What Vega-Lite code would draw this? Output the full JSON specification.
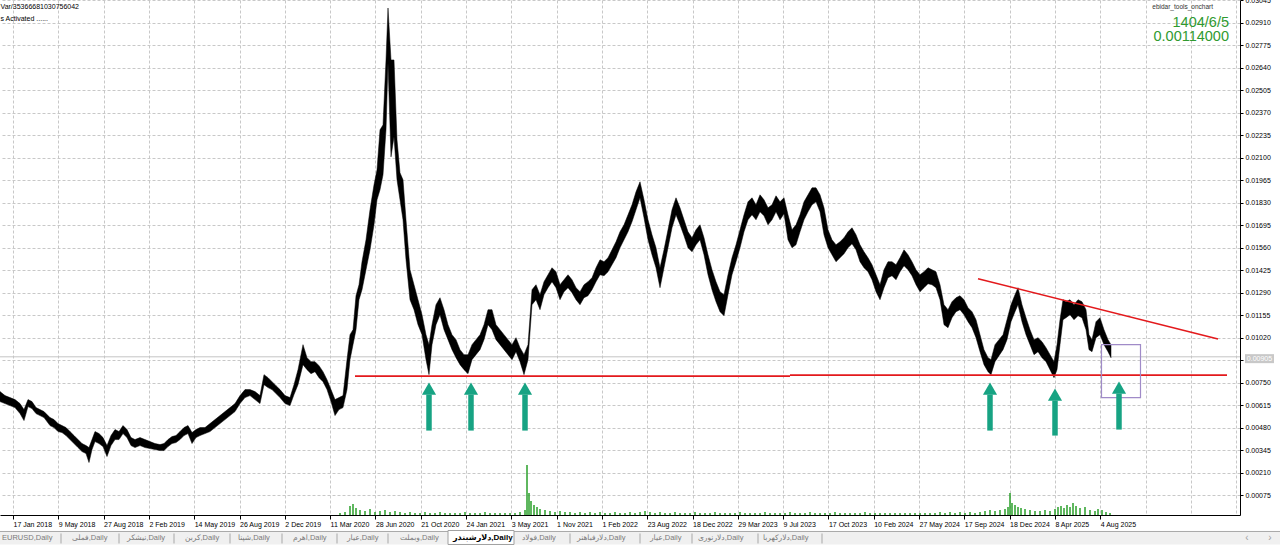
{
"$schema": "https://vega.github.io/schema/vega-lite/v6.json",
"width": 1240, "height": 515,
"autosize": {"type": "none"},
"padding": {"left": 0, "top": 0, "right": 40, "bottom": 30},
"background": "white",
"config": {"view": {"stroke": null}, "font": "Liberation Sans, DejaVu Sans"},
"datasets": {
"price": [
{"t":0,"h":0.00696,"l":0.00636},{"t":5,"h":0.00672,"l":0.00624},{"t":10,"h":0.0066,"l":0.00612},{"t":15,"h":0.00648,"l":0.006},{"t":20,"h":0.00624,"l":0.00564},{"t":24,"h":0.00588,"l":0.00522},{"t":28,"h":0.00648,"l":0.00606},{"t":32,"h":0.00636,"l":0.00594},{"t":36,"h":0.006,"l":0.00564},{"t":40,"h":0.00588,"l":0.00552},{"t":44,"h":0.00576,"l":0.0054},{"t":50,"h":0.0054,"l":0.00492},{"t":54,"h":0.00528,"l":0.0048},{"t":58,"h":0.00504,"l":0.00456},{"t":62,"h":0.00492,"l":0.0045},{"t":66,"h":0.0048,"l":0.00432},{"t":70,"h":0.00456,"l":0.00408},{"t":74,"h":0.00432,"l":0.00384},{"t":78,"h":0.00408,"l":0.0036},{"t":82,"h":0.00384,"l":0.00336},{"t":86,"h":0.00372,"l":0.00324},{"t":89,"h":0.0036,"l":0.0027},{"t":92,"h":0.00408,"l":0.00348},{"t":95,"h":0.00456,"l":0.00396},{"t":99,"h":0.00444,"l":0.00384},{"t":103,"h":0.0042,"l":0.00366},{"t":107,"h":0.00372,"l":0.00306},{"t":111,"h":0.00432,"l":0.00372},{"t":115,"h":0.00468,"l":0.00408},{"t":119,"h":0.00456,"l":0.00408},{"t":123,"h":0.00492,"l":0.00444},{"t":127,"h":0.00468,"l":0.0042},{"t":131,"h":0.0042,"l":0.00372},{"t":135,"h":0.00408,"l":0.0036},{"t":140,"h":0.0042,"l":0.00372},{"t":145,"h":0.00408,"l":0.0036},{"t":150,"h":0.00396,"l":0.00354},{"t":155,"h":0.00384,"l":0.00348},{"t":160,"h":0.00378,"l":0.00342},{"t":164,"h":0.00384,"l":0.00342},{"t":168,"h":0.00408,"l":0.00366},{"t":172,"h":0.00426,"l":0.00384},{"t":176,"h":0.00432,"l":0.0039},{"t":180,"h":0.00456,"l":0.00408},{"t":184,"h":0.0048,"l":0.00432},{"t":188,"h":0.00492,"l":0.00444},{"t":192,"h":0.0045,"l":0.00384},{"t":196,"h":0.00468,"l":0.0042},{"t":200,"h":0.0048,"l":0.00432},{"t":205,"h":0.0048,"l":0.00444},{"t":210,"h":0.00504,"l":0.00456},{"t":215,"h":0.00528,"l":0.0048},{"t":220,"h":0.00552,"l":0.00504},{"t":225,"h":0.00576,"l":0.00528},{"t":230,"h":0.006,"l":0.00552},{"t":235,"h":0.00624,"l":0.00576},{"t":240,"h":0.00672,"l":0.00624},{"t":245,"h":0.00708,"l":0.0066},{"t":250,"h":0.00708,"l":0.00672},{"t":255,"h":0.00696,"l":0.00648},{"t":260,"h":0.00672,"l":0.00624},{"t":264,"h":0.00798,"l":0.00738},{"t":268,"h":0.0078,"l":0.0072},{"t":272,"h":0.00756,"l":0.00708},{"t":276,"h":0.00732,"l":0.00684},{"t":280,"h":0.00708,"l":0.0066},{"t":285,"h":0.00672,"l":0.00624},{"t":290,"h":0.0066,"l":0.00612},{"t":294,"h":0.00738,"l":0.00678},{"t":298,"h":0.00828,"l":0.00738},{"t":303,"h":0.00978,"l":0.00858},{"t":307,"h":0.009,"l":0.00828},{"t":311,"h":0.00876,"l":0.00804},{"t":315,"h":0.00876,"l":0.00816},{"t":319,"h":0.00852,"l":0.0078},{"t":323,"h":0.00816,"l":0.00756},{"t":327,"h":0.00768,"l":0.00708},{"t":331,"h":0.00708,"l":0.00636},{"t":335,"h":0.00648,"l":0.00552},{"t":339,"h":0.0066,"l":0.00588},{"t":343,"h":0.00672,"l":0.006},{"t":347,"h":0.00888,"l":0.00708},{"t":350,"h":0.01038,"l":0.00888},{"t":353,"h":0.01068,"l":0.00978},{"t":356,"h":0.01272,"l":0.01068},{"t":359,"h":0.01338,"l":0.01248},{"t":362,"h":0.01476,"l":0.01308},{"t":366,"h":0.01608,"l":0.01428},{"t":370,"h":0.01788,"l":0.01548},{"t":374,"h":0.01938,"l":0.01698},{"t":377,"h":0.02028,"l":0.01848},{"t":380,"h":0.02268,"l":0.01908},{"t":383,"h":0.02298,"l":0.01998},{"t":386,"h":0.02688,"l":0.02268},{"t":388,"h":0.03,"l":0.0267},{"t":391,"h":0.02688,"l":0.02106},{"t":394,"h":0.02688,"l":0.02226},{"t":397,"h":0.02208,"l":0.01968},{"t":400,"h":0.0201,"l":0.01848},{"t":403,"h":0.01968,"l":0.01728},{"t":406,"h":0.01728,"l":0.01488},{"t":410,"h":0.01428,"l":0.01248},{"t":414,"h":0.01338,"l":0.01188},{"t":418,"h":0.01248,"l":0.01098},{"t":422,"h":0.01158,"l":0.01038},{"t":426,"h":0.01038,"l":0.00888},{"t":429,"h":0.00978,"l":0.00798},{"t":432,"h":0.01098,"l":0.00978},{"t":436,"h":0.01218,"l":0.01098},{"t":440,"h":0.0126,"l":0.01158},{"t":444,"h":0.01188,"l":0.01068},{"t":448,"h":0.01098,"l":0.01008},{"t":452,"h":0.01038,"l":0.00948},{"t":456,"h":0.01008,"l":0.009},{"t":460,"h":0.00948,"l":0.00858},{"t":464,"h":0.00918,"l":0.00828},{"t":468,"h":0.00918,"l":0.00804},{"t":472,"h":0.00978,"l":0.00888},{"t":476,"h":0.01008,"l":0.00918},{"t":480,"h":0.01038,"l":0.00948},{"t":484,"h":0.01098,"l":0.01008},{"t":488,"h":0.01188,"l":0.01098},{"t":492,"h":0.01188,"l":0.01068},{"t":496,"h":0.01098,"l":0.01008},{"t":500,"h":0.01068,"l":0.00978},{"t":504,"h":0.01038,"l":0.00948},{"t":508,"h":0.01008,"l":0.00918},{"t":512,"h":0.00978,"l":0.00888},{"t":516,"h":0.0102,"l":0.00936},{"t":520,"h":0.0096,"l":0.00876},{"t":524,"h":0.00918,"l":0.00798},{"t":528,"h":0.00978,"l":0.00888},{"t":532,"h":0.01308,"l":0.01218},{"t":536,"h":0.01338,"l":0.01248},{"t":540,"h":0.01278,"l":0.01188},{"t":544,"h":0.01356,"l":0.01278},{"t":548,"h":0.01398,"l":0.0132},{"t":552,"h":0.0144,"l":0.01356},{"t":556,"h":0.01416,"l":0.0132},{"t":560,"h":0.01338,"l":0.01248},{"t":564,"h":0.01368,"l":0.01296},{"t":568,"h":0.01398,"l":0.0132},{"t":572,"h":0.01368,"l":0.0129},{"t":576,"h":0.0132,"l":0.01248},{"t":580,"h":0.01296,"l":0.01218},{"t":584,"h":0.01338,"l":0.0126},{"t":588,"h":0.01356,"l":0.01272},{"t":592,"h":0.0138,"l":0.01308},{"t":596,"h":0.0144,"l":0.01356},{"t":600,"h":0.01488,"l":0.01398},{"t":604,"h":0.01476,"l":0.01392},{"t":608,"h":0.015,"l":0.01416},{"t":612,"h":0.01548,"l":0.01458},{"t":616,"h":0.01596,"l":0.015},{"t":620,"h":0.01656,"l":0.0156},{"t":624,"h":0.01698,"l":0.01608},{"t":628,"h":0.01758,"l":0.01656},{"t":632,"h":0.01818,"l":0.01716},{"t":636,"h":0.01896,"l":0.01788},{"t":640,"h":0.01956,"l":0.0186},{"t":644,"h":0.01848,"l":0.0174},{"t":648,"h":0.01728,"l":0.01608},{"t":652,"h":0.01638,"l":0.01518},{"t":656,"h":0.0156,"l":0.0144},{"t":660,"h":0.0144,"l":0.0132},{"t":664,"h":0.01548,"l":0.0144},{"t":668,"h":0.01668,"l":0.0156},{"t":672,"h":0.01788,"l":0.0168},{"t":676,"h":0.0186,"l":0.01758},{"t":680,"h":0.018,"l":0.01698},{"t":684,"h":0.01728,"l":0.01632},{"t":688,"h":0.01656,"l":0.0156},{"t":692,"h":0.0162,"l":0.01536},{"t":696,"h":0.01668,"l":0.01578},{"t":700,"h":0.01698,"l":0.01608},{"t":704,"h":0.0162,"l":0.01518},{"t":708,"h":0.01518,"l":0.01398},{"t":712,"h":0.01428,"l":0.01308},{"t":716,"h":0.01356,"l":0.01236},{"t":720,"h":0.01296,"l":0.01176},{"t":724,"h":0.01278,"l":0.01152},{"t":728,"h":0.01398,"l":0.01278},{"t":732,"h":0.015,"l":0.01398},{"t":736,"h":0.01578,"l":0.01476},{"t":740,"h":0.01668,"l":0.0156},{"t":744,"h":0.01758,"l":0.01656},{"t":748,"h":0.01836,"l":0.01728},{"t":752,"h":0.0186,"l":0.01758},{"t":756,"h":0.01818,"l":0.01728},{"t":760,"h":0.01878,"l":0.01776},{"t":764,"h":0.01848,"l":0.01752},{"t":768,"h":0.018,"l":0.01698},{"t":772,"h":0.01818,"l":0.01728},{"t":776,"h":0.01872,"l":0.01776},{"t":780,"h":0.01836,"l":0.01728},{"t":784,"h":0.0186,"l":0.01764},{"t":788,"h":0.01758,"l":0.01608},{"t":792,"h":0.01668,"l":0.0156},{"t":796,"h":0.01698,"l":0.01578},{"t":800,"h":0.01758,"l":0.01656},{"t":804,"h":0.01836,"l":0.01728},{"t":808,"h":0.01878,"l":0.01776},{"t":812,"h":0.0192,"l":0.01818},{"t":816,"h":0.0192,"l":0.01836},{"t":820,"h":0.01878,"l":0.01776},{"t":824,"h":0.018,"l":0.01638},{"t":828,"h":0.01668,"l":0.0156},{"t":832,"h":0.01608,"l":0.01518},{"t":836,"h":0.01578,"l":0.01476},{"t":840,"h":0.01596,"l":0.015},{"t":844,"h":0.0162,"l":0.01524},{"t":848,"h":0.01656,"l":0.0156},{"t":852,"h":0.0168,"l":0.01584},{"t":856,"h":0.01638,"l":0.01548},{"t":860,"h":0.01578,"l":0.01476},{"t":864,"h":0.01536,"l":0.0144},{"t":868,"h":0.015,"l":0.01416},{"t":872,"h":0.01458,"l":0.01368},{"t":876,"h":0.01398,"l":0.01296},{"t":880,"h":0.01338,"l":0.01248},{"t":884,"h":0.01428,"l":0.0132},{"t":888,"h":0.01476,"l":0.0138},{"t":892,"h":0.01476,"l":0.01392},{"t":896,"h":0.01458,"l":0.01368},{"t":900,"h":0.015,"l":0.01416},{"t":904,"h":0.01548,"l":0.01452},{"t":908,"h":0.01518,"l":0.01428},{"t":912,"h":0.01476,"l":0.01392},{"t":916,"h":0.01428,"l":0.01338},{"t":920,"h":0.01398,"l":0.01296},{"t":924,"h":0.01416,"l":0.0132},{"t":928,"h":0.0144,"l":0.01344},{"t":932,"h":0.01428,"l":0.01338},{"t":936,"h":0.01416,"l":0.0132},{"t":940,"h":0.01338,"l":0.01248},{"t":944,"h":0.01218,"l":0.01098},{"t":948,"h":0.01188,"l":0.0108},{"t":952,"h":0.01236,"l":0.0114},{"t":956,"h":0.0126,"l":0.01176},{"t":960,"h":0.01272,"l":0.01188},{"t":964,"h":0.01248,"l":0.01158},{"t":968,"h":0.012,"l":0.01116},{"t":972,"h":0.01176,"l":0.0108},{"t":976,"h":0.01128,"l":0.0102},{"t":980,"h":0.01038,"l":0.00936},{"t":984,"h":0.00948,"l":0.00858},{"t":988,"h":0.009,"l":0.00816},{"t":991,"h":0.00888,"l":0.00798},{"t":995,"h":0.00978,"l":0.00876},{"t":999,"h":0.01008,"l":0.00912},{"t":1003,"h":0.01038,"l":0.00948},{"t":1007,"h":0.01128,"l":0.01008},{"t":1011,"h":0.01218,"l":0.01116},{"t":1015,"h":0.01278,"l":0.01176},{"t":1018,"h":0.0132,"l":0.01218},{"t":1022,"h":0.01218,"l":0.01116},{"t":1026,"h":0.0114,"l":0.01038},{"t":1030,"h":0.01068,"l":0.00978},{"t":1034,"h":0.01008,"l":0.00918},{"t":1038,"h":0.0102,"l":0.00936},{"t":1042,"h":0.00996,"l":0.009},{"t":1046,"h":0.0096,"l":0.00876},{"t":1050,"h":0.00918,"l":0.00828},{"t":1054,"h":0.00876,"l":0.0078},{"t":1057,"h":0.00978,"l":0.00828},{"t":1060,"h":0.01128,"l":0.00978},{"t":1063,"h":0.01248,"l":0.01128},{"t":1066,"h":0.01236,"l":0.0114},{"t":1070,"h":0.01248,"l":0.01158},{"t":1074,"h":0.01218,"l":0.01128},{"t":1078,"h":0.01248,"l":0.01152},{"t":1082,"h":0.01236,"l":0.0114},{"t":1086,"h":0.01188,"l":0.01068},{"t":1089,"h":0.01038,"l":0.00948},{"t":1092,"h":0.01008,"l":0.00936},{"t":1096,"h":0.01116,"l":0.0102},{"t":1100,"h":0.0114,"l":0.01038},{"t":1104,"h":0.01068,"l":0.00978},{"t":1108,"h":0.01008,"l":0.00936},{"t":1111,"h":0.00978,"l":0.009}
],
"vol": [
{"t":340,"v":4},{"t":345,"v":6},{"t":350,"v":18},{"t":353,"v":22},{"t":356,"v":14},{"t":360,"v":10},{"t":365,"v":8},{"t":370,"v":12},{"t":375,"v":6},{"t":380,"v":8},{"t":385,"v":10},{"t":390,"v":6},{"t":395,"v":8},{"t":400,"v":6},{"t":405,"v":4},{"t":410,"v":6},{"t":415,"v":4},{"t":420,"v":4},{"t":425,"v":6},{"t":430,"v":4},{"t":435,"v":4},{"t":440,"v":6},{"t":445,"v":4},{"t":450,"v":4},{"t":455,"v":4},{"t":460,"v":4},{"t":465,"v":6},{"t":470,"v":4},{"t":475,"v":4},{"t":480,"v":4},{"t":485,"v":6},{"t":490,"v":4},{"t":495,"v":4},{"t":500,"v":4},{"t":505,"v":4},{"t":510,"v":4},{"t":515,"v":4},{"t":520,"v":6},{"t":525,"v":10},{"t":527,"v":100},{"t":529,"v":44},{"t":531,"v":28},{"t":534,"v":20},{"t":537,"v":16},{"t":540,"v":12},{"t":545,"v":10},{"t":550,"v":8},{"t":555,"v":6},{"t":560,"v":8},{"t":565,"v":6},{"t":570,"v":6},{"t":575,"v":4},{"t":580,"v":6},{"t":585,"v":4},{"t":590,"v":6},{"t":595,"v":4},{"t":600,"v":6},{"t":605,"v":4},{"t":610,"v":4},{"t":615,"v":6},{"t":620,"v":4},{"t":625,"v":4},{"t":630,"v":6},{"t":635,"v":4},{"t":640,"v":6},{"t":645,"v":8},{"t":650,"v":6},{"t":655,"v":4},{"t":660,"v":6},{"t":665,"v":4},{"t":670,"v":4},{"t":675,"v":6},{"t":680,"v":4},{"t":685,"v":4},{"t":690,"v":4},{"t":695,"v":6},{"t":700,"v":4},{"t":705,"v":4},{"t":710,"v":4},{"t":715,"v":6},{"t":720,"v":4},{"t":725,"v":4},{"t":730,"v":4},{"t":735,"v":4},{"t":740,"v":6},{"t":745,"v":4},{"t":750,"v":4},{"t":755,"v":4},{"t":760,"v":4},{"t":765,"v":6},{"t":770,"v":4},{"t":775,"v":4},{"t":780,"v":4},{"t":785,"v":4},{"t":790,"v":6},{"t":795,"v":4},{"t":800,"v":4},{"t":805,"v":4},{"t":810,"v":6},{"t":815,"v":4},{"t":820,"v":4},{"t":825,"v":4},{"t":830,"v":4},{"t":835,"v":6},{"t":840,"v":4},{"t":845,"v":4},{"t":850,"v":4},{"t":855,"v":4},{"t":860,"v":4},{"t":865,"v":6},{"t":870,"v":4},{"t":875,"v":4},{"t":880,"v":4},{"t":885,"v":4},{"t":890,"v":4},{"t":895,"v":4},{"t":900,"v":4},{"t":905,"v":4},{"t":910,"v":4},{"t":915,"v":4},{"t":920,"v":4},{"t":925,"v":4},{"t":930,"v":4},{"t":935,"v":4},{"t":940,"v":6},{"t":945,"v":4},{"t":950,"v":6},{"t":955,"v":4},{"t":960,"v":6},{"t":965,"v":4},{"t":970,"v":6},{"t":975,"v":4},{"t":980,"v":6},{"t":985,"v":8},{"t":990,"v":10},{"t":995,"v":8},{"t":1000,"v":10},{"t":1005,"v":12},{"t":1008,"v":16},{"t":1010,"v":44},{"t":1012,"v":24},{"t":1015,"v":20},{"t":1018,"v":16},{"t":1021,"v":14},{"t":1025,"v":12},{"t":1030,"v":10},{"t":1035,"v":8},{"t":1040,"v":8},{"t":1045,"v":10},{"t":1050,"v":8},{"t":1055,"v":12},{"t":1058,"v":16},{"t":1061,"v":18},{"t":1064,"v":14},{"t":1067,"v":20},{"t":1070,"v":16},{"t":1073,"v":24},{"t":1076,"v":18},{"t":1080,"v":14},{"t":1085,"v":16},{"t":1090,"v":10},{"t":1095,"v":8},{"t":1098,"v":12},{"t":1102,"v":10},{"t":1106,"v":6},{"t":1110,"v":4}
],
"tabs": [
{"t":2,"s":"EURUSD,Daily","act":false},{"t":72,"s":"فملی,Daily","act":false},{"t":127,"s":"نیشکر,Daily","act":false},{"t":185,"s":"کربن,Daily","act":false},{"t":238,"s":"شپنا,Daily","act":false},{"t":293,"s":"اهرم,Daily","act":false},{"t":347,"s":"عیار,Daily","act":false},{"t":400,"s":"وبملت,Daily","act":false},{"t":453,"s":"دلارشبندر,Daily","act":true},{"t":522,"s":"فولاد,Daily","act":false},{"t":577,"s":"دلارفباهنر,Daily","act":false},{"t":650,"s":"عیار,Daily","act":false},{"t":698,"s":"دلارنوری,Daily","act":false},{"t":763,"s":"دلارکهربا,Daily","act":false}
],
"arrows": [
{"t":429,"top":0.00678,"bot":0.00462,"head":0.00714},
{"t":471,"top":0.00678,"bot":0.00462,"head":0.00714},
{"t":525,"top":0.00678,"bot":0.00462,"head":0.00714},
{"t":990,"top":0.00678,"bot":0.00462,"head":0.00714},
{"t":1055,"top":0.00642,"bot":0.00432,"head":0.00678},
{"t":1119,"top":0.00684,"bot":0.00468,"head":0.0072}
]
},
"resolve": {"scale": {"y": "independent"}, "axis": {"y": "independent"}},
"layer": [
{
"data": {"values": [{"t": 0, "t2": 1280, "p1": -0.00144, "p2": -0.00222}]},
"mark": {"type": "rect", "fill": "#f0f0f0", "strokeWidth": 0},
"encoding": {
"x": {"field": "t", "type": "quantitative", "scale": {"domain": [0, 1240], "nice": false, "zero": false}, "title": null},
"x2": {"field": "t2"},
"y": {"field": "p1", "type": "quantitative", "scale": {"domain": [-0.00045, 0.03048], "nice": false, "zero": false}, "axis": null},
"y2": {"field": "p2"}
}
},
{
"data": {"values": [{"t": 0, "t2": 1280, "p": -0.00144}]},
"mark": {"type": "rule", "color": "#a8a8a8", "strokeWidth": 1},
"encoding": {
"x": {"field": "t", "type": "quantitative", "scale": {"domain": [0, 1240], "nice": false, "zero": false}, "title": null},
"x2": {"field": "t2"},
"y": {"field": "p", "type": "quantitative", "scale": {"domain": [-0.00045, 0.03048], "nice": false, "zero": false}, "axis": null}
}
},
{
"data": {"values": [{"t": 448, "t2": 514, "p1": -0.00138, "p2": -0.00222}]},
"mark": {"type": "rect", "fill": "white", "stroke": "#a0a0a0", "strokeWidth": 1},
"encoding": {
"x": {"field": "t", "type": "quantitative", "scale": {"domain": [0, 1240], "nice": false, "zero": false}, "title": null},
"x2": {"field": "t2"},
"y": {"field": "p1", "type": "quantitative", "scale": {"domain": [-0.00045, 0.03048], "nice": false, "zero": false}, "axis": null},
"y2": {"field": "p2"}
}
},
{
"data": {"values": [{"t": 61}, {"t": 119}, {"t": 174}, {"t": 230}, {"t": 282}, {"t": 337}, {"t": 388}, {"t": 570}, {"t": 640}, {"t": 692}, {"t": 758}, {"t": 822}]},
"mark": {"type": "rule", "color": "#a8a8a8", "strokeWidth": 1},
"encoding": {
"x": {"field": "t", "type": "quantitative", "scale": {"domain": [0, 1240], "nice": false, "zero": false}, "title": null},
"y": {"datum": -0.00156, "type": "quantitative", "scale": {"domain": [-0.00045, 0.03048], "nice": false, "zero": false}, "axis": null},
"y2": {"datum": -0.00216}
}
},
{
"data": {"name": "tabs"},
"transform": [{"filter": "!datum.act"}],
"mark": {"type": "text", "align": "left", "baseline": "middle", "fontSize": 7.5, "color": "#7a7a7a", "font": "Liberation Sans, DejaVu Sans"},
"encoding": {
"x": {"field": "t", "type": "quantitative", "scale": {"domain": [0, 1240], "nice": false, "zero": false}, "title": null},
"y": {"datum": -0.00186, "type": "quantitative", "scale": {"domain": [-0.00045, 0.03048], "nice": false, "zero": false}, "axis": null},
"text": {"field": "s"}
}
},
{
"data": {"name": "tabs"},
"transform": [{"filter": "datum.act"}],
"mark": {"type": "text", "align": "left", "baseline": "middle", "fontSize": 8, "fontWeight": "bold", "color": "#000000", "font": "Liberation Sans, DejaVu Sans"},
"encoding": {
"x": {"field": "t", "type": "quantitative", "scale": {"domain": [0, 1240], "nice": false, "zero": false}, "title": null},
"y": {"datum": -0.00186, "type": "quantitative", "scale": {"domain": [-0.00045, 0.03048], "nice": false, "zero": false}, "axis": null},
"text": {"field": "s"}
}
},
{
"data": {"values": [{"t": 1247, "s": "‹"}, {"t": 1270, "s": "›"}]},
"mark": {"type": "text", "align": "center", "baseline": "middle", "fontSize": 10, "color": "#a0a0a0"},
"encoding": {
"x": {"field": "t", "type": "quantitative", "scale": {"domain": [0, 1240], "nice": false, "zero": false}, "title": null},
"y": {"datum": -0.00186, "type": "quantitative", "scale": {"domain": [-0.00045, 0.03048], "nice": false, "zero": false}, "axis": null},
"text": {"field": "s"}
}
},
{
"data": {"name": "vol"},
"mark": {"type": "rule", "color": "#2a9f2a", "strokeWidth": 1.5},
"encoding": {
"x": {"field": "t", "type": "quantitative", "scale": {"domain": [0, 1240], "nice": false, "zero": false}, "title": null},
"y": {"field": "v", "type": "quantitative", "scale": {"domain": [0, 1030], "nice": false, "zero": false}, "axis": null},
"y2": {"datum": 0}
}
},
{
"data": {"values": [{"t": 0, "t2": 1240, "p": 0.00905}]},
"mark": {"type": "rule", "color": "#c4c4c4", "strokeWidth": 1},
"encoding": {
"x": {"field": "t", "type": "quantitative", "scale": {"domain": [0, 1240], "nice": false, "zero": false}, "title": null},
"x2": {"field": "t2"},
"y": {"field": "p", "type": "quantitative", "scale": {"domain": [-0.00045, 0.03048], "nice": false, "zero": false}, "axis": null}
}
},
{
"data": {"name": "price"},
"mark": {"type": "area", "color": "#000000", "stroke": "#000000", "strokeWidth": 0.5},
"encoding": {
"x": {"field": "t", "type": "quantitative", "scale": {"domain": [0, 1240], "nice": false, "zero": false}, "title": null,
"axis": {
"values": [-32.3,-9.65,13,35.65,58.3,80.95,103.6,126.25,148.9,171.55,194.2,216.85,239.5,262.15,284.8,307.45,330.1,352.75,375.4,398.05,420.7,443.35,466,488.65,511.3,533.95,556.6,579.25,601.9,624.55,647.2,669.85,692.5,715.15,737.8,760.45,783.1,805.75,828.4,851.05,873.7,896.35,919,941.65,964.3,986.95,1009.6,1032.25,1054.9,1077.55,1100.2,1122.85,1145.5,1168.15,1190.8,1213.45,1236.1],
"labelExpr": "(round((datum.value-13)/22.65)%2==0 && datum.value<1110) ? ['21 Sep 2017','17 Jan 2018','9 May 2018','27 Aug 2018','2 Feb 2019','14 May 2019','26 Aug 2019','2 Dec 2019','11 Mar 2020','28 Jun 2020','21 Oct 2020','24 Jan 2021','3 May 2021','1 Nov 2021','1 Feb 2022','23 Aug 2022','18 Dec 2022','29 Mar 2023','9 Jul 2023','17 Oct 2023','10 Feb 2024','27 May 2024','17 Sep 2024','18 Dec 2024','8 Apr 2025','4 Aug 2025'][round((datum.value-13)/45.3)+1] : ''",
"grid": true, "gridDash": [3, 2], "gridColor": "#c8c8c8", "gridWidth": 1,
"tickSize": 4, "tickColor": "#000000",
"tickOpacity": {"condition": {"test": "round((datum.value-13)/22.65)%2==0 && datum.value<1110", "value": 1}, "value": 0},
"domainColor": "#000000", "labelAlign": "left", "labelBaseline": "top", "labelPadding": 1,
"labelFontSize": 7, "labelFont": "Liberation Sans", "labelColor": "#000000",
"labelOverlap": false, "labelFlush": false, "labelBound": false, "title": null
}},
"y": {"field": "h", "type": "quantitative", "scale": {"domain": [-0.00045, 0.03048], "nice": false, "zero": false},
"axis": {
"orient": "right",
"values": [0.00075,0.0021,0.00345,0.0048,0.00615,0.0075,0.00885,0.0102,0.01155,0.0129,0.01425,0.0156,0.01695,0.0183,0.01965,0.021,0.02235,0.0237,0.02505,0.0264,0.02775,0.0291,0.03045],
"labelExpr": "abs(datum.value-0.00885)<0.000001 ? '' : format(datum.value,'.5f')",
"grid": true, "gridDash": [3, 2], "gridColor": "#c8c8c8", "gridWidth": 1,
"tickSize": 3, "tickColor": "#000000", "domainColor": "#000000",
"labelFontSize": 7, "labelFont": "Liberation Sans", "labelColor": "#000000", "labelPadding": 2,
"labelOverlap": false, "labelFlush": false, "labelBound": false, "title": null
}},
"y2": {"field": "l"}
}
},
{
"data": {"values": [{"t": 355, "t2": 790, "p1": 0.00789, "p2": 0.00789}, {"t": 790, "t2": 1227, "p1": 0.00795, "p2": 0.00795}, {"t": 978, "t2": 1218, "p1": 0.01374, "p2": 0.01012}]},
"mark": {"type": "rule", "color": "#e3191c", "strokeWidth": 1.6},
"encoding": {
"x": {"field": "t", "type": "quantitative", "scale": {"domain": [0, 1240], "nice": false, "zero": false}, "title": null},
"x2": {"field": "t2"},
"y": {"field": "p1", "type": "quantitative", "scale": {"domain": [-0.00045, 0.03048], "nice": false, "zero": false}, "axis": null},
"y2": {"field": "p2"}
}
},
{
"data": {"values": [{"t": 1101.5, "t2": 1140.5, "p1": 0.00978, "p2": 0.0066}]},
"mark": {"type": "rect", "fill": null, "fillOpacity": 0, "stroke": "#a08bc8", "strokeWidth": 1.2},
"encoding": {
"x": {"field": "t", "type": "quantitative", "scale": {"domain": [0, 1240], "nice": false, "zero": false}, "title": null},
"x2": {"field": "t2"},
"y": {"field": "p1", "type": "quantitative", "scale": {"domain": [-0.00045, 0.03048], "nice": false, "zero": false}, "axis": null},
"y2": {"field": "p2"}
}
},
{
"data": {"name": "arrows"},
"mark": {"type": "rule", "color": "#17a383", "strokeWidth": 5.5},
"encoding": {
"x": {"field": "t", "type": "quantitative", "scale": {"domain": [0, 1240], "nice": false, "zero": false}, "title": null},
"y": {"field": "top", "type": "quantitative", "scale": {"domain": [-0.00045, 0.03048], "nice": false, "zero": false}, "axis": null},
"y2": {"field": "bot"}
}
},
{
"data": {"name": "arrows"},
"mark": {"type": "point", "shape": "triangle-up", "filled": true, "color": "#17a383", "size": 200, "opacity": 1},
"encoding": {
"x": {"field": "t", "type": "quantitative", "scale": {"domain": [0, 1240], "nice": false, "zero": false}, "title": null},
"y": {"field": "head", "type": "quantitative", "scale": {"domain": [-0.00045, 0.03048], "nice": false, "zero": false}, "axis": null}
}
},
{
"data": {"values": [{"t": 0.5, "p": 0.03006, "s": "Var/35366681030756042"}, {"t": 0.5, "p": 0.02934, "s": "s Activated ......"}]},
"mark": {"type": "text", "align": "left", "baseline": "middle", "fontSize": 7, "color": "#000000", "font": "Liberation Sans"},
"encoding": {
"x": {"field": "t", "type": "quantitative", "scale": {"domain": [0, 1240], "nice": false, "zero": false}, "title": null},
"y": {"field": "p", "type": "quantitative", "scale": {"domain": [-0.00045, 0.03048], "nice": false, "zero": false}, "axis": null},
"text": {"field": "s"}
}
},
{
"data": {"values": [{"t": 1213, "p": 0.03006, "s": "ebidar_tools_onchart"}]},
"mark": {"type": "text", "align": "right", "baseline": "middle", "fontSize": 6.5, "color": "#333333", "font": "Liberation Sans"},
"encoding": {
"x": {"field": "t", "type": "quantitative", "scale": {"domain": [0, 1240], "nice": false, "zero": false}, "title": null},
"y": {"field": "p", "type": "quantitative", "scale": {"domain": [-0.00045, 0.03048], "nice": false, "zero": false}, "axis": null},
"text": {"field": "s"}
}
},
{
"data": {"values": [{"t": 1229, "p": 0.0291, "s": "1404/6/5"}, {"t": 1229, "p": 0.02823, "s": "0.00114000"}]},
"mark": {"type": "text", "align": "right", "baseline": "middle", "fontSize": 14.5, "color": "#2f9a2f", "font": "Liberation Sans"},
"encoding": {
"x": {"field": "t", "type": "quantitative", "scale": {"domain": [0, 1240], "nice": false, "zero": false}, "title": null},
"y": {"field": "p", "type": "quantitative", "scale": {"domain": [-0.00045, 0.03048], "nice": false, "zero": false}, "axis": null},
"text": {"field": "s"}
}
},
{
"data": {"values": [{"t": 1245, "t2": 1274, "p1": 0.00921, "p2": 0.00867}]},
"mark": {"type": "rect", "fill": "#c8c8c8", "strokeWidth": 0},
"encoding": {
"x": {"field": "t", "type": "quantitative", "scale": {"domain": [0, 1240], "nice": false, "zero": false}, "title": null},
"x2": {"field": "t2"},
"y": {"field": "p1", "type": "quantitative", "scale": {"domain": [-0.00045, 0.03048], "nice": false, "zero": false}, "axis": null},
"y2": {"field": "p2"}
}
},
{
"data": {"values": [{"t": 1259.5, "p": 0.00894, "s": "0.00905"}]},
"mark": {"type": "text", "align": "center", "baseline": "middle", "fontSize": 7, "color": "#ffffff", "font": "Liberation Sans"},
"encoding": {
"x": {"field": "t", "type": "quantitative", "scale": {"domain": [0, 1240], "nice": false, "zero": false}, "title": null},
"y": {"field": "p", "type": "quantitative", "scale": {"domain": [-0.00045, 0.03048], "nice": false, "zero": false}, "axis": null},
"text": {"field": "s"}
}
}
]
}
